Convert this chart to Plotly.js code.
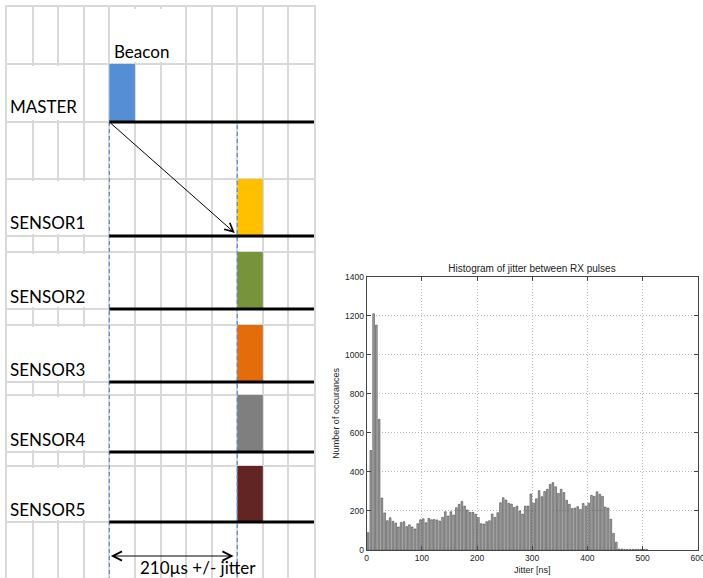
<!DOCTYPE html>
<html>
<head>
<meta charset="utf-8">
<script src="https://cdn.plot.ly/plotly-3.0.1.min.js"></script>
<style>html,body{margin:0;padding:0;background:#fff;}#chart{width:703px;height:578px;}</style>
</head>
<body>
<div id="chart"></div>
<script>
// ---------- Histogram data ----------
const jitterNs = [2.5,7.5,12.5,17.5,22.5,27.5,32.5,37.5,42.5,47.5,
  52.5,57.5,62.5,67.5,72.5,77.5,82.5,87.5,92.5,97.5,
  102.5,107.5,112.5,117.5,122.5,127.5,132.5,137.5,142.5,147.5,
  152.5,157.5,162.5,167.5,172.5,177.5,182.5,187.5,192.5,197.5,
  202.5,207.5,212.5,217.5,222.5,227.5,232.5,237.5,242.5,247.5,
  252.5,257.5,262.5,267.5,272.5,277.5,282.5,287.5,292.5,297.5,
  302.5,307.5,312.5,317.5,322.5,327.5,332.5,337.5,342.5,347.5,
  352.5,357.5,362.5,367.5,372.5,377.5,382.5,387.5,392.5,397.5,
  402.5,407.5,412.5,417.5,422.5,427.5,432.5,437.5,442.5,447.5,
  452.5,457.5,462.5,467.5,472.5,477.5,482.5,487.5,492.5,497.5,
  502.5,507.5];
const occurrences = [89,510,1210,1152,669,266,190,150,165,147,138,118,141,145,120,129,118,108,135,155,
  160,140,162,155,156,154,148,167,196,174,196,179,217,234,248,225,205,193,193,183,
  166,135,133,145,150,184,167,191,242,268,256,239,235,218,225,200,184,225,225,287,
  240,262,304,273,300,311,336,345,324,290,311,294,255,234,212,215,222,208,238,225,
  240,280,275,298,285,275,220,215,158,85,40,5,5,3,3,3,3,3,3,3,3,3];
const xTicks = [0,100,200,300,400,500,600];
const yTicks = [0,200,400,600,800,1000,1200,1400];

// ---------- Timing diagram data ----------
const rowLabels = ['MASTER','SENSOR1','SENSOR2','SENSOR3','SENSOR4','SENSOR5'];
const pulseTimesUs = [0,210,210,210,210,210];
const pulseWidthUs = 42;
const pulseColors = ['#558ED5','#FFC000','#77933C','#E46C0A','#7F7F7F','#632523'];
const delayUs = 210;
const beaconLabel = 'Beacon';
const delayLabel = '210µs +/- jitter';

// layout geometry of the diagram (rows in px of the drawing)
const rowTop = [64,179,252,325,395,466];
const rowBottom = [122,236,309,382,452,522];
const rowGrid = [64,122,179,236,252,309,325,382,395,452,466,522];
const colWidth = 42, tStart = -168, tEnd = 336;

const traces = [];
// histogram bars
traces.push({type:'bar', x: jitterNs, y: occurrences, xaxis:'x', yaxis:'y',
  marker:{color:'#a8a8a8', line:{color:'#2a2a2a', width:0.5}}, hoverinfo:'skip'});

// dashed blue reference lines
traces.push({type:'scatter', mode:'lines', xaxis:'x2', yaxis:'y2', x:[0,0], y:[122,578],
  line:{color:'#4A86D0', width:1.1, dash:'4px,3px'}, hoverinfo:'skip'});
traces.push({type:'scatter', mode:'lines', xaxis:'x2', yaxis:'y2', x:[delayUs,delayUs], y:[125,578],
  line:{color:'#4A86D0', width:1.1, dash:'4px,3px'}, hoverinfo:'skip'});

// pulses
traces.push({type:'bar', xaxis:'x2', yaxis:'y2',
  x: pulseTimesUs.map(t => t + pulseWidthUs/2),
  width: pulseTimesUs.map(() => pulseWidthUs),
  base: rowTop,
  y: rowTop.map((t,i) => rowBottom[i]-t),
  marker:{color: pulseColors, line:{width:0}}, hoverinfo:'skip'});

// black timelines
rowBottom.forEach(yb => {
  traces.push({type:'scatter', mode:'lines', xaxis:'x2', yaxis:'y2', x:[0,tEnd], y:[yb,yb],
    line:{color:'#000', width:3}, hoverinfo:'skip'});
});

const shapes = [];
const white = (x0,x1,y0,y1) => ({type:'rect', xref:'x2', yref:'y2', x0, x1, y0, y1,
  fillcolor:'#fff', line:{width:0}, layer:'between'});
shapes.push(white(4, 122, 9, 62));
shapes.push(white(-165, -46, 66, 120));
for (let i = 1; i < rowTop.length; i++) shapes.push(white(-165, -3, rowTop[i]+2, rowBottom[i]-2));

const lblFont = {family:'Lato, "Open Sans", sans-serif', size:17, color:'#000'};
const annotations = [];
rowLabels.forEach((lab,i) => {
  annotations.push({xref:'x2', yref:'y2', x:-166, y: rowBottom[i] - (i===0?15.5:13), text: lab,
    showarrow:false, xanchor:'left', yanchor:'middle', font: lblFont});
});
annotations.push({xref:'x2', yref:'y2', x:4, y:51.5, text: beaconLabel, showarrow:false,
  xanchor:'left', yanchor:'middle', font: lblFont});
annotations.push({xref:'x2', yref:'y2', x:146, y:567.5, text: delayLabel, showarrow:false,
  xanchor:'center', yanchor:'middle', font: lblFont});
// diagonal arrow master -> sensor1
annotations.push({xref:'x2', yref:'y2', axref:'x2', ayref:'y2', x:206, y:233, ax:0, ay:122,
  text:'', showarrow:true, arrowhead:5, arrowsize:1.7, arrowwidth:1, arrowcolor:'#000', standoff:0});
// double arrow for delay
annotations.push({xref:'x2', yref:'y2', axref:'x2', ayref:'y2', x:204, y:556, ax:0, ay:556,
  text:'', showarrow:true, arrowhead:5, startarrowhead:5, arrowside:'end+start',
  arrowsize:1.8, startarrowsize:1.8, arrowwidth:1, arrowcolor:'#000', standoff:0, startstandoff:0});

const tickFont = {family:'"Liberation Sans", Arial, sans-serif', size:8.5, color:'#222'};
const layout = {
  width:703, height:578, margin:{l:0,r:0,t:0,b:0}, paper_bgcolor:'#fff', plot_bgcolor:'#fff',
  showlegend:false, barmode:'overlay', bargap:0.38,
  title:{text:'Histogram of jitter between RX pulses', x:532/703, y:1-268/578, xanchor:'center', yanchor:'middle',
    xref:'paper', yref:'paper', font:{family:'"Liberation Sans", Arial, sans-serif', size:10, color:'#222'}},
  xaxis:{domain:[366.7/703, 697.7/703], anchor:'y', range:[0,600], tickvals:xTicks, ticks:'inside', ticklen:4,
    tickcolor:'#444', showline:true, mirror:'ticks', linecolor:'#444', linewidth:1, ticklabeloverflow:'allow',
    showgrid:true, gridcolor:'#b8b8b8', griddash:'1px,2px', gridwidth:1, zeroline:false, tickfont:tickFont,
    title:{text:'Jitter [ns]', font:{family:'"Liberation Sans", Arial, sans-serif', size:9, color:'#222'}, standoff:4}},
  yaxis:{domain:[1-550/578, 1-276.7/578], anchor:'x', range:[0,1400], tickvals:yTicks, ticks:'inside', ticklen:4,
    tickcolor:'#444', showline:true, mirror:'ticks', linecolor:'#444', linewidth:1, ticklabeloverflow:'allow',
    showgrid:true, gridcolor:'#b8b8b8', griddash:'1px,2px', gridwidth:1, zeroline:false, tickfont:tickFont,
    title:{text:'Number of occurances', font:{family:'"Liberation Sans", Arial, sans-serif', size:9, color:'#222'}, standoff:3}},
  xaxis2:{domain:[7/703, 314/703], anchor:'y2', range:[tStart,tEnd], tick0:tStart, dtick:colWidth,
    showgrid:true, gridcolor:'#d9d9d9', gridwidth:2, showticklabels:false, ticks:'', zeroline:false,
    showline:true, side:'top', linecolor:'#d9d9d9', linewidth:2},
  yaxis2:{domain:[0, 1-7/578], anchor:'x2', range:[578,7], tickvals:rowGrid,
    showgrid:true, gridcolor:'#d9d9d9', gridwidth:2, showticklabels:false, ticks:'', zeroline:false,
    showline:true, mirror:true, linecolor:'#d9d9d9', linewidth:2},
  shapes, annotations
};
Plotly.newPlot('chart', traces, layout, {displayModeBar:false, staticPlot:true});
</script>
</body>
</html>
